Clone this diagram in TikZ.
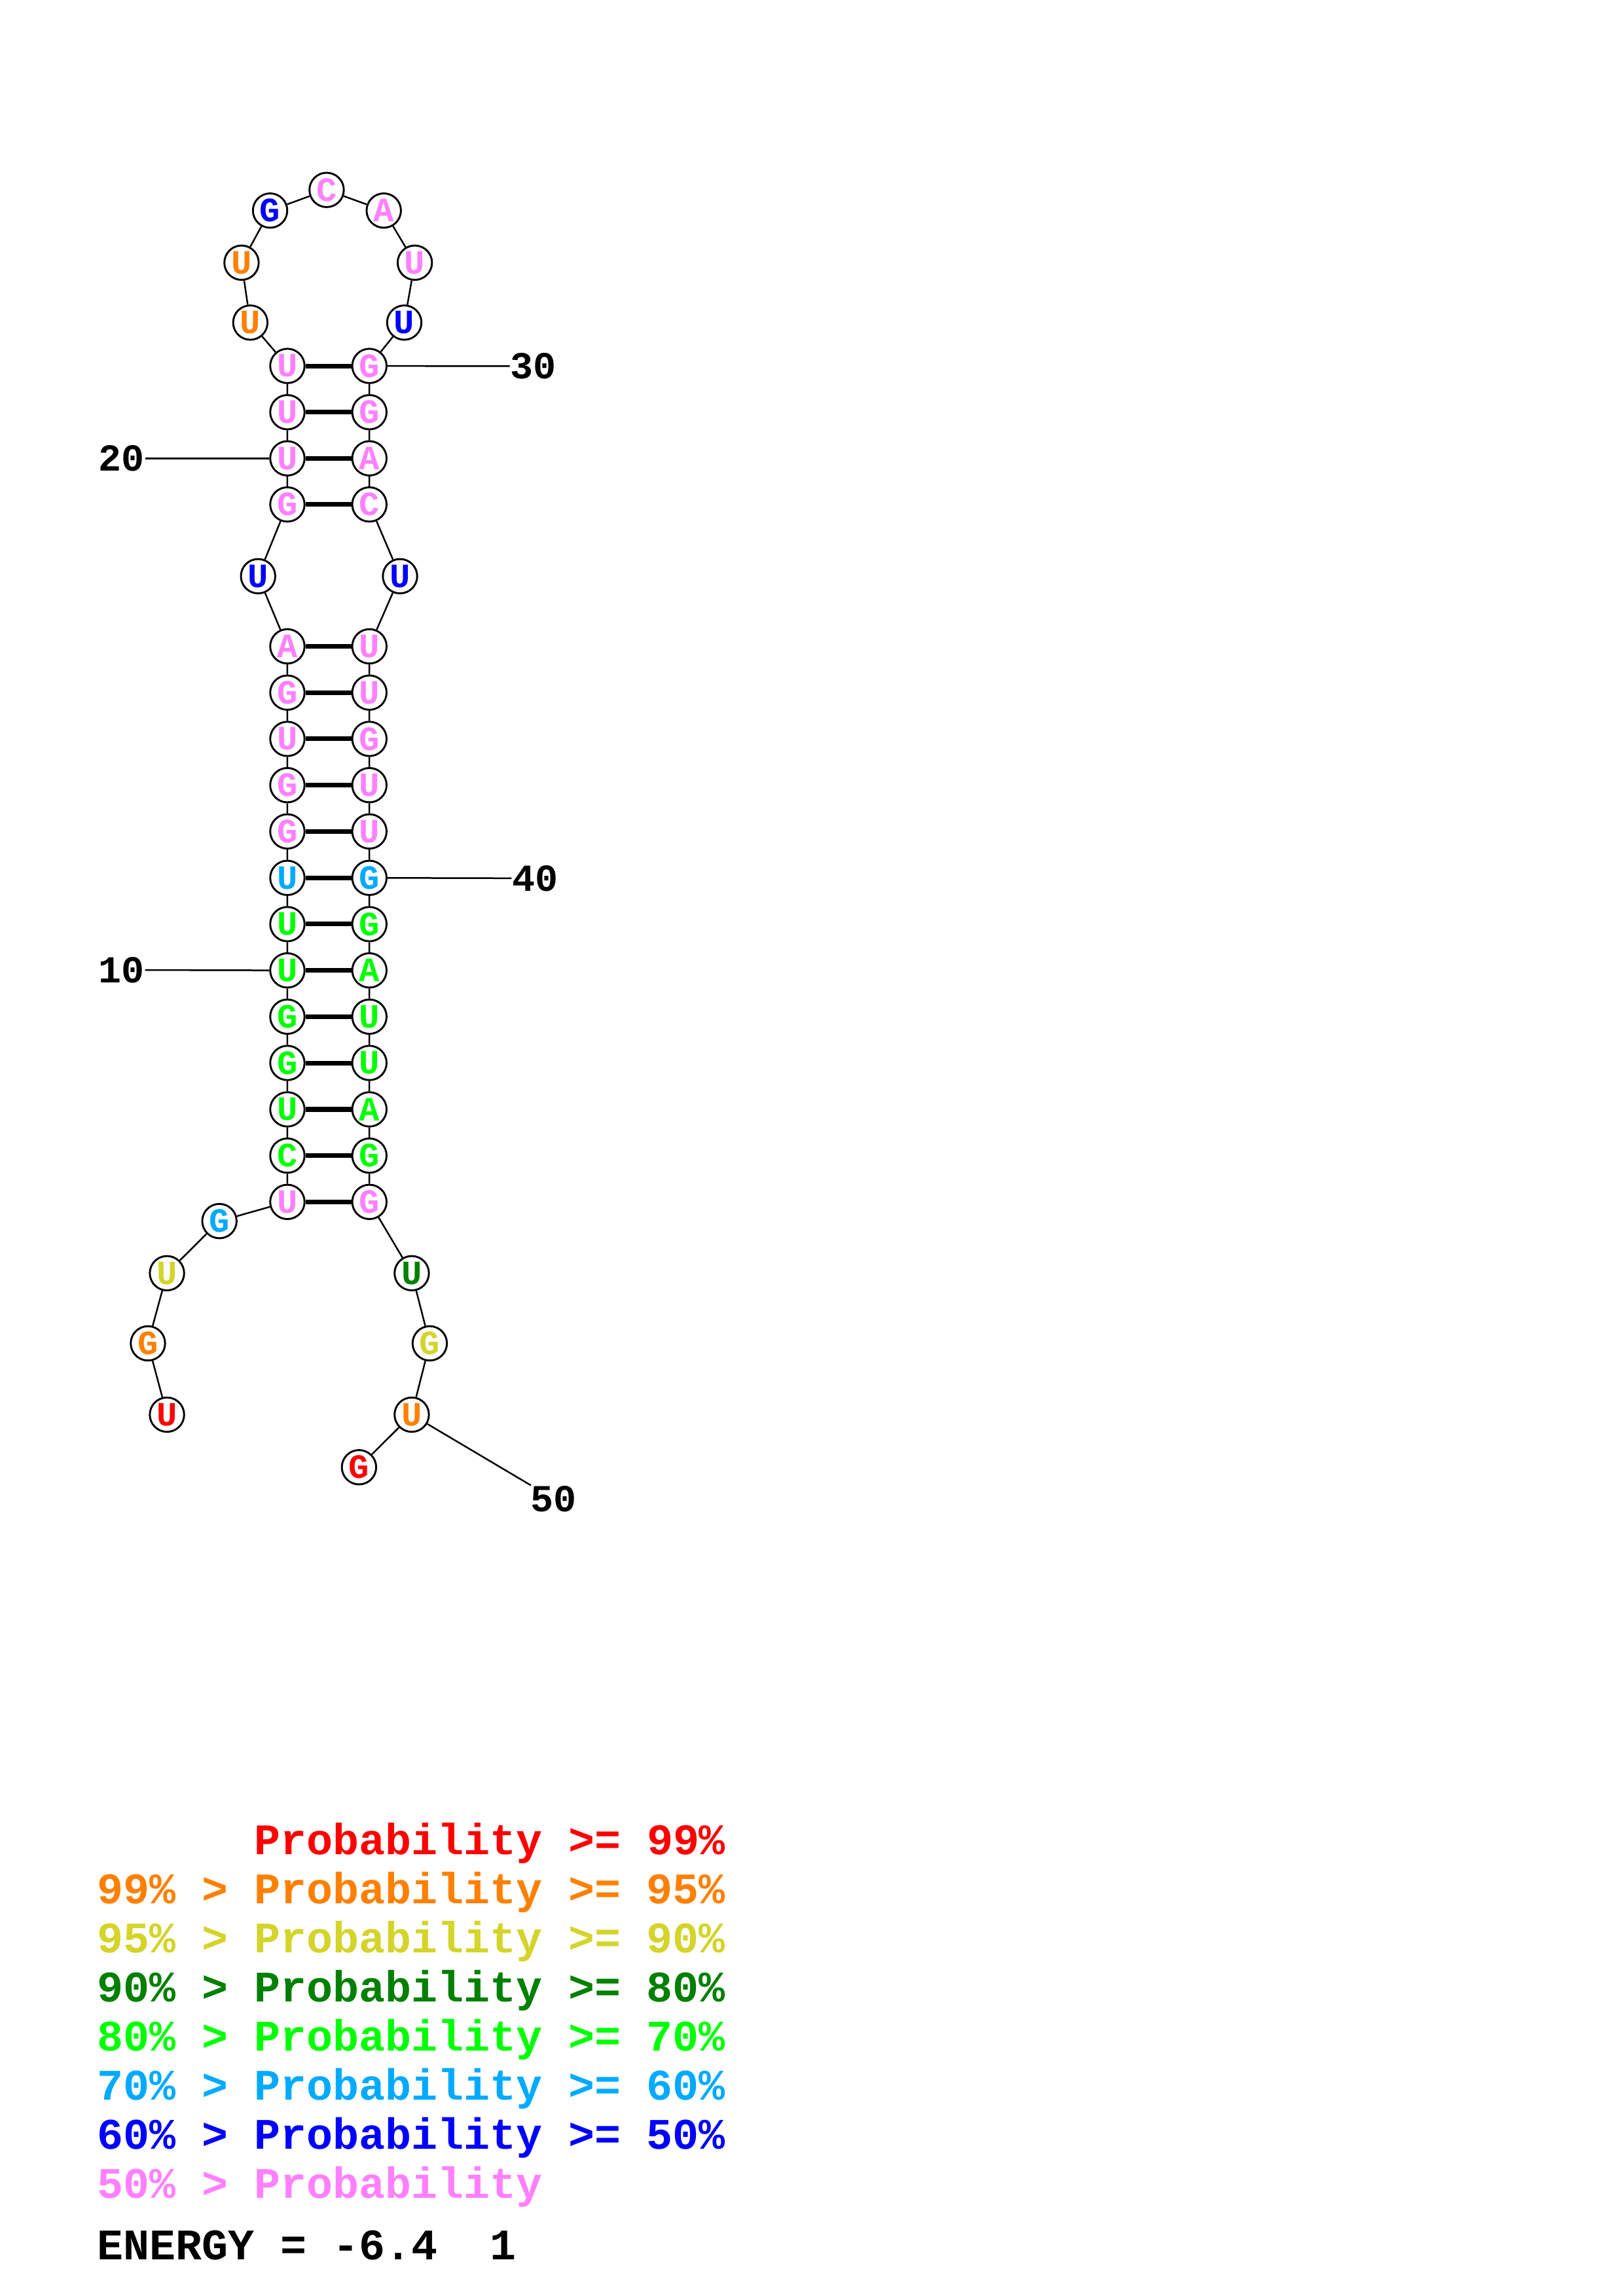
\documentclass[tikz,border=0pt]{standalone}
\usepackage{fontspec}
\usepackage{xcolor}
\usepackage{tikz}
\newfontfamily\ntfont{Liberation Mono}
\definecolor{pRed}{RGB}{255,0,0}
\definecolor{pOrange}{RGB}{255,128,0}
\definecolor{pYellow}{RGB}{212,212,42}
\definecolor{pDkGreen}{RGB}{0,128,0}
\definecolor{pGreen}{RGB}{0,255,0}
\definecolor{pLtBlue}{RGB}{0,170,255}
\definecolor{pBlue}{RGB}{0,0,255}
\definecolor{pPink}{RGB}{255,128,255}

\begin{document}
\begin{tikzpicture}[x=0.53726pt,y=-0.53726pt,
  nt/.style={circle,draw,line width=0.7pt,fill=white,minimum size=12.6pt,inner sep=0pt,
    font=\ntfont\bfseries\fontsize{12.5}{12.5}\selectfont},
  bb/.style={line width=0.6pt},
  bp/.style={line width=1.7pt},
  num/.style={inner sep=0pt,font=\ntfont\bfseries\fontsize{14}{14}\selectfont},
  key/.style={anchor=base west,inner sep=0pt,font=\ntfont\bfseries\fontsize{16}{16}\selectfont}]
\useasboundingbox (0,0) rectangle (1108,1568);
  \node[nt,text=pRed] (n1) at (114,966.1) {U};
  \node[nt,text=pOrange] (n2) at (101,917.4) {G};
  \node[nt,text=pYellow] (n3) at (114,869.5) {U};
  \node[nt,text=pLtBlue] (n4) at (149.8,833.9) {G};
  \node[nt,text=pPink] (n5) at (196.2,820.8) {U};
  \node[nt,text=pGreen] (n6) at (196.2,789.2) {C};
  \node[nt,text=pGreen] (n7) at (196.2,757.6) {U};
  \node[nt,text=pGreen] (n8) at (196.2,725.9) {G};
  \node[nt,text=pGreen] (n9) at (196.2,694.3) {G};
  \node[nt,text=pGreen] (n10) at (196.2,662.7) {U};
  \node[nt,text=pGreen] (n11) at (196.2,631.1) {U};
  \node[nt,text=pLtBlue] (n12) at (196.2,599.5) {U};
  \node[nt,text=pPink] (n13) at (196.2,567.8) {G};
  \node[nt,text=pPink] (n14) at (196.2,536.2) {G};
  \node[nt,text=pPink] (n15) at (196.2,504.6) {U};
  \node[nt,text=pPink] (n16) at (196.2,473.0) {G};
  \node[nt,text=pPink] (n17) at (196.2,441.4) {A};
  \node[nt,text=pBlue] (n18) at (176.2,393.5) {U};
  \node[nt,text=pPink] (n19) at (196.2,344.5) {G};
  \node[nt,text=pPink] (n20) at (196.2,313.0) {U};
  \node[nt,text=pPink] (n21) at (196.2,281.5) {U};
  \node[nt,text=pPink] (n22) at (196.2,249.9) {U};
  \node[nt,text=pOrange] (n23) at (170.9,220.3) {U};
  \node[nt,text=pOrange] (n24) at (164.9,179.4) {U};
  \node[nt,text=pBlue] (n25) at (184.4,143.8) {G};
  \node[nt,text=pPink] (n26) at (223,129.7) {C};
  \node[nt,text=pPink] (n27) at (262,143.8) {A};
  \node[nt,text=pPink] (n28) at (283.2,179.4) {U};
  \node[nt,text=pBlue] (n29) at (276,220.3) {U};
  \node[nt,text=pPink] (n30) at (252.2,249.9) {G};
  \node[nt,text=pPink] (n31) at (252.2,281.5) {G};
  \node[nt,text=pPink] (n32) at (252.2,313.0) {A};
  \node[nt,text=pPink] (n33) at (252.2,344.5) {C};
  \node[nt,text=pBlue] (n34) at (273.1,393.5) {U};
  \node[nt,text=pPink] (n35) at (252.2,441.4) {U};
  \node[nt,text=pPink] (n36) at (252.2,473.0) {U};
  \node[nt,text=pPink] (n37) at (252.2,504.6) {G};
  \node[nt,text=pPink] (n38) at (252.2,536.2) {U};
  \node[nt,text=pPink] (n39) at (252.2,567.8) {U};
  \node[nt,text=pLtBlue] (n40) at (252.2,599.5) {G};
  \node[nt,text=pGreen] (n41) at (252.2,631.1) {G};
  \node[nt,text=pGreen] (n42) at (252.2,662.7) {A};
  \node[nt,text=pGreen] (n43) at (252.2,694.3) {U};
  \node[nt,text=pGreen] (n44) at (252.2,725.9) {U};
  \node[nt,text=pGreen] (n45) at (252.2,757.6) {A};
  \node[nt,text=pGreen] (n46) at (252.2,789.2) {G};
  \node[nt,text=pPink] (n47) at (252.2,820.8) {G};
  \node[nt,text=pDkGreen] (n48) at (281.1,869.5) {U};
  \node[nt,text=pYellow] (n49) at (293.4,917.4) {G};
  \node[nt,text=pOrange] (n50) at (281.1,966.1) {U};
  \node[nt,text=pRed] (n51) at (245.1,1002) {G};
  \draw[bb] (n1)--(n2)--(n3)--(n4)--(n5)--(n6)--(n7)--(n8)--(n9)--(n10)--(n11)--(n12)--(n13)
    --(n14)--(n15)--(n16)--(n17)--(n18)--(n19)--(n20)--(n21)--(n22)--(n23)--(n24)--(n25)--(n26);
  \draw[bb] (n26)--(n27)--(n28)--(n29)--(n30)--(n31)--(n32)--(n33)--(n34)--(n35)--(n36)--(n37)
    --(n38)--(n39)--(n40)--(n41)--(n42)--(n43)--(n44)--(n45)--(n46)--(n47)--(n48)--(n49)--(n50)--(n51);
  \draw[bp] (n5)--(n47);
  \draw[bp] (n6)--(n46);
  \draw[bp] (n7)--(n45);
  \draw[bp] (n8)--(n44);
  \draw[bp] (n9)--(n43);
  \draw[bp] (n10)--(n42);
  \draw[bp] (n11)--(n41);
  \draw[bp] (n12)--(n40);
  \draw[bp] (n13)--(n39);
  \draw[bp] (n14)--(n38);
  \draw[bp] (n15)--(n37);
  \draw[bp] (n16)--(n36);
  \draw[bp] (n17)--(n35);
  \draw[bp] (n19)--(n33);
  \draw[bp] (n20)--(n32);
  \draw[bp] (n21)--(n31);
  \draw[bp] (n22)--(n30);
  \node[num] (l10) at (83,662.4) {10};
  \node[num] (l20) at (83,313.0) {20};
  \node[num] (l30) at (364,250.1) {30};
  \node[num] (l40) at (365.3,599.8) {40};
  \node[num] (l50) at (378,1023.6) {50};
  \draw[bb] (l10)--(n10);
  \draw[bb] (l20)--(n20);
  \draw[bb] (n30)--(l30);
  \draw[bb] (n40)--(l40);
  \draw[bb] (n50)--(l50);
  \node[key,text=pRed] (k99) at (66,1266.5) {\phantom{99\% > }Probability >= 99\%};
  \node[key,text=pOrange] (k95) at (66,1300) {99\% > Probability >= 95\%};
  \node[key,text=pYellow] (k90) at (66,1333.5) {95\% > Probability >= 90\%};
  \node[key,text=pDkGreen] (k80) at (66,1367) {90\% > Probability >= 80\%};
  \node[key,text=pGreen] (k70) at (66,1400.5) {80\% > Probability >= 70\%};
  \node[key,text=pLtBlue] (k60) at (66,1434) {70\% > Probability >= 60\%};
  \node[key,text=pBlue] (k50) at (66,1467.5) {60\% > Probability >= 50\%};
  \node[key,text=pPink] (k0) at (66,1501) {50\% > Probability};
  \node[key] (energy) at (66,1543.2) {ENERGY = -6.4~~1};
\end{tikzpicture}
\end{document}
